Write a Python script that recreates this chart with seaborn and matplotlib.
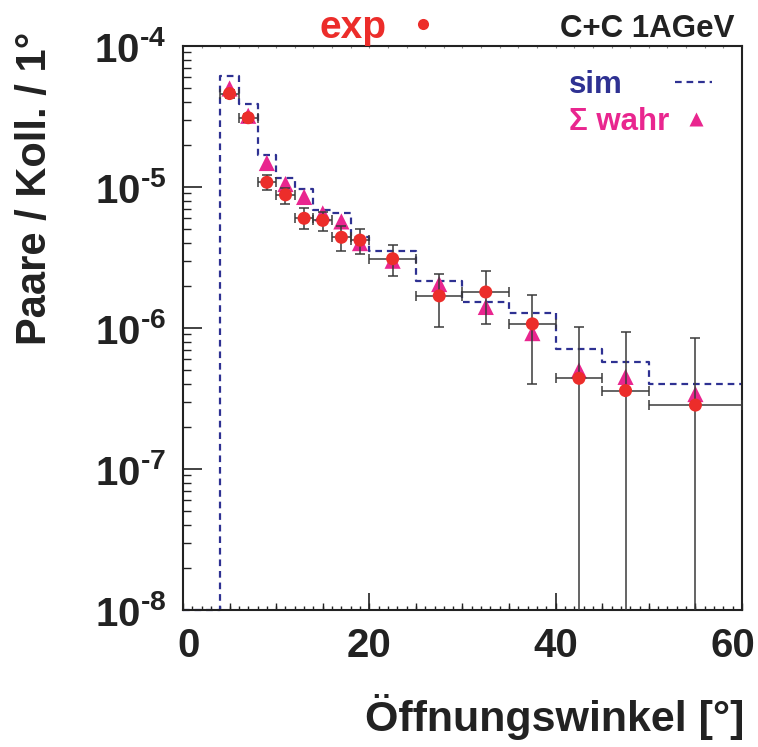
import numpy as np
import matplotlib
matplotlib.use('Agg')
import matplotlib.pyplot as plt
import matplotlib.ticker as mticker
import matplotlib.transforms as mtransforms
from matplotlib import font_manager
from matplotlib.lines import Line2D
import seaborn as sns

# Daten
bin_edges = [4, 6, 8, 10, 12, 14, 16, 18, 20, 25, 30, 35, 40, 45, 50, 60]
bin_centers = [5, 7, 9, 11, 13, 15, 17, 19, 22.5, 27.5, 32.5, 37.5, 42.5, 47.5, 55]

exp_werte = [4.6e-5, 3.1e-5, 1.08e-5, 8.8e-6, 6.0e-6, 5.8e-6, 4.4e-6, 4.2e-6,
             3.1e-6, 1.69e-6, 1.8e-6, 1.07e-6, 4.4e-7, 3.6e-7, 2.84e-7]
exp_oben = [4.9e-5, 3.3e-5, 1.22e-5, 9.8e-6, 7.1e-6, 6.7e-6, 5.3e-6, 5.0e-6,
            3.9e-6, 2.4e-6, 2.54e-6, 1.71e-6, 1.02e-6, 9.4e-7, 8.5e-7]
exp_unten = [4.3e-5, 2.9e-5, 9.5e-6, 7.6e-6, 5.0e-6, 4.9e-6, 3.5e-6, 3.35e-6,
             2.35e-6, 1.02e-6, 1.07e-6, 4.0e-7, 1e-10, 1e-10, 1e-10]

wahr_werte = [5.0e-5, 3.2e-5, 1.48e-5, 1.05e-5, 8.5e-6, 6.5e-6, 5.7e-6, 4.0e-6,
              3.0e-6, 2.05e-6, 1.41e-6, 0.92e-6, 5.0e-7, 4.5e-7, 3.4e-7]

sim_edges = [0] + bin_edges
sim_werte = [0, 6.1e-5, 3.9e-5, 1.69e-5, 1.16e-5, 9.7e-6, 6.9e-6, 6.5e-6, 4.4e-6,
             3.5e-6, 2.15e-6, 1.53e-6, 1.28e-6, 7.1e-7, 5.75e-7, 4.0e-7]

x_ticks = [0, 20, 40, 60]
y_min, y_max = 1e-8, 1e-4

rot = '#ec2d2a'
magenta = '#e9268f'
blau = '#2e3192'
schwarz = '#222222'

sns.set_style('ticks')
plt.rcParams['font.family'] = ['Liberation Sans', 'DejaVu Sans']
plt.rcParams['font.weight'] = 'bold'

# schmale Schrift fuer die Achsenbeschriftung, falls vorhanden
namen = {f.name for f in font_manager.fontManager.ttflist}
schmal = 'Liberation Sans Narrow' if 'Liberation Sans Narrow' in namen else 'Liberation Sans'
zahl_groesse = 34 if schmal == 'Liberation Sans Narrow' else 29
plt.rcParams['mathtext.fontset'] = 'custom'
plt.rcParams['mathtext.rm'] = schmal + ':bold'
plt.rcParams['mathtext.bf'] = schmal + ':bold'


def exponent_label(v, pos):
    e = int(round(np.log10(v)))
    vz = '\u2010' if e < 0 else ''
    return '$\\mathbf{10^{' + vz + str(abs(e)) + '}}$'


fig = plt.figure(figsize=(7.58, 7.47), dpi=100)
ax = fig.add_axes([0.2414, 0.1834, 0.7375, 0.755])

# Simulation als Stufenhistogramm (leere Bins liegen auf dem Rahmen)
sim_y = np.clip(np.array(sim_werte + [sim_werte[-1]]), y_min, None)
sns.lineplot(x=sim_edges, y=sim_y, drawstyle='steps-post', estimator=None,
             color=blau, linewidth=1.6, linestyle=(0, (3, 2.2)), ax=ax,
             clip_on=False, zorder=1)

sns.scatterplot(x=bin_centers, y=wahr_werte, marker='^', s=135, color=magenta,
                edgecolor='none', ax=ax, zorder=2)

halbe_breite = np.diff(bin_edges) / 2
ex = np.array(exp_werte)
ax.errorbar(bin_centers, ex, xerr=halbe_breite,
            yerr=[ex - np.array(exp_unten), np.array(exp_oben) - ex],
            fmt='none', ecolor='#3a3a3a', elinewidth=1.1, capsize=3.5,
            capthick=1.1, zorder=3)

sns.scatterplot(x=bin_centers, y=exp_werte, marker='o', s=88, color=rot,
                edgecolor='none', ax=ax, zorder=4)

ax.set_yscale('log')
ax.set_xlim(0, 60)
ax.set_ylim(y_min, y_max)

# Achsen im ROOT-Stil
ax.xaxis.set_major_locator(mticker.FixedLocator(x_ticks))
ax.xaxis.set_minor_locator(mticker.MultipleLocator(1))
ax.yaxis.set_major_locator(mticker.LogLocator(base=10, numticks=10))
ax.yaxis.set_minor_locator(mticker.LogLocator(base=10, subs=np.arange(2, 10), numticks=20))
ax.yaxis.set_minor_formatter(mticker.NullFormatter())
ax.yaxis.set_major_formatter(mticker.FuncFormatter(exponent_label))

ax.tick_params(axis='x', which='major', direction='in', length=12, width=1.2,
               labelsize=zahl_groesse, pad=12, colors=schwarz)
ax.tick_params(axis='x', which='minor', direction='in', length=3, width=1.0,
               colors=schwarz)
ax.tick_params(axis='y', which='major', direction='in', length=14, width=1.2,
               labelsize=zahl_groesse, pad=12, colors=schwarz)
ax.tick_params(axis='y', which='minor', direction='in', length=6, width=1.0,
               colors=schwarz)
for lab in ax.get_xticklabels():
    lab.set_fontfamily(schmal)

# erste und letzte Zahl wie im Original leicht nach innen versetzt
ticks = ax.xaxis.get_major_ticks()
ticks[0].label1.set_transform(ticks[0].label1.get_transform() +
                              mtransforms.ScaledTranslation(6 / 100, 0, fig.dpi_scale_trans))
ticks[-1].label1.set_transform(ticks[-1].label1.get_transform() +
                               mtransforms.ScaledTranslation(-9 / 100, 0, fig.dpi_scale_trans))

mitte = ax.secondary_xaxis('bottom')
mitte.xaxis.set_major_locator(mticker.MultipleLocator(5))
mitte.tick_params(direction='in', length=5, width=1.0, labelbottom=False, colors=schwarz)
mitte.spines['bottom'].set_visible(False)

oben = ax.secondary_xaxis('top')
oben.xaxis.set_major_locator(mticker.MultipleLocator(2))
oben.tick_params(direction='in', length=1.5, width=0.8, labeltop=False, colors='#888888')
oben.spines['top'].set_visible(False)

for sp in ax.spines.values():
    sp.set_visible(True)
    sp.set_linewidth(1.5)
    sp.set_color(schwarz)

ax.set_ylabel('Paare / Koll. / 1°', fontsize=30, fontweight='bold', color=schwarz)
ax.yaxis.set_label_coords(-0.229, 0.747)
ax.set_xlabel('Öffnungswinkel [°]', fontsize=31, fontweight='bold', color=schwarz,
              ha='right', va='center')
ax.xaxis.set_label_coords(1.005, -0.19)

# Legenden
h_sim = Line2D([], [], color=blau, linewidth=1.6, linestyle=(0, (3, 2.2)))
leg1 = ax.legend([h_sim], ['sim'], loc='lower left', bbox_to_anchor=(0.6905, 0.904),
                 frameon=False, markerfirst=False, fontsize=22.5, handlelength=1.2,
                 handletextpad=1.66, borderpad=0, borderaxespad=0, labelcolor=blau)
ax.add_artist(leg1)

h_wahr = Line2D([], [], color=magenta, marker='^', linestyle='none', markersize=10,
                markeredgecolor='none')
leg2 = ax.legend([h_wahr], ['Σ wahr'], loc='lower left', bbox_to_anchor=(0.6905, 0.839),
                 frameon=False, markerfirst=False, fontsize=22.5, handlelength=1.2,
                 handletextpad=0.27, borderpad=0, borderaxespad=0, labelcolor=magenta)
ax.add_artist(leg2)

h_exp = Line2D([], [], color=rot, marker='o', linestyle='none', markersize=8,
               markeredgecolor='none')
ax.legend([h_exp], ['exp'], loc='lower left', bbox_to_anchor=(0.245, 1.0),
          frameon=False, markerfirst=False, fontsize=28, handlelength=1.2,
          handletextpad=0.33, borderpad=0, borderaxespad=0, labelcolor=rot)

fig.text(735 / 758, 1 - 37 / 747, 'C+C 1AGeV', fontsize=22.5, fontweight='bold',
         color=schwarz, ha='right', va='baseline')

fig.savefig('out.png', dpi=100)
